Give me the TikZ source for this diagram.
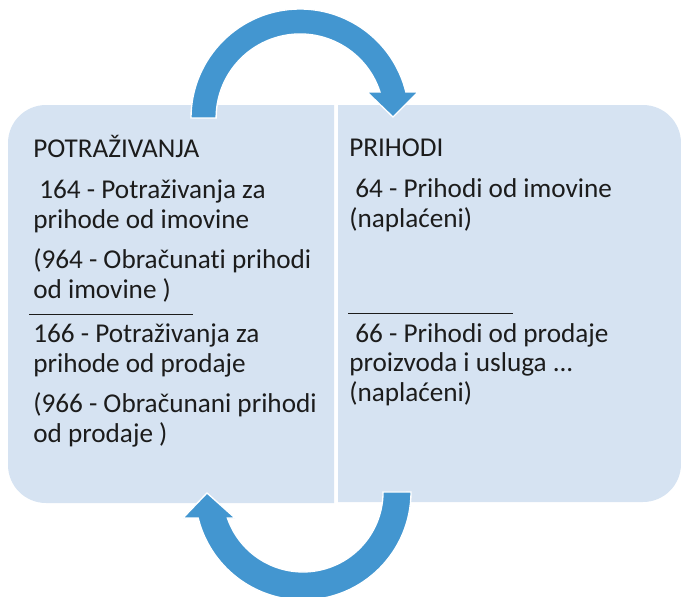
\documentclass[tikz,border=0pt]{standalone}
\usepackage{fontspec}
\setmainfont{Carlito}[Ligatures=NoCommon]
\definecolor{panelblue}{RGB}{214,227,242}
\definecolor{arrowblue}{RGB}{67,150,208}
\definecolor{inkgray}{RGB}{28,28,28}
\tikzstyle{panel} = [fill=panelblue, draw=none]
\tikzstyle{cyclearrow} = [fill=arrowblue, draw=white, line width=1pt]
\tikzstyle{txt} = [anchor=base west, inner sep=0pt, align=left, text=inkgray,
    font=\fontsize{20.4}{22.1}\selectfont]
\tikzstyle{rule} = [draw=inkgray, line width=0.75pt]

\begin{document}
\begin{tikzpicture}[x=0.75pt, y=-0.75pt]
\useasboundingbox (0,0) rectangle (681,596);
\path[panel] (171,105) [rounded corners=28.5pt] -- (8,105) -- (8,503) -- (171,503)
    [sharp corners] -- (334,503) -- (334,105) -- cycle;
\path[panel] (509,105) [rounded corners=28.5pt] -- (681,105) -- (681,502) -- (509,502)
    [sharp corners] -- (338,502) -- (338,105) -- cycle;
\coordinate (topc) at (300,118);
\coordinate (botc) at (303,492);
% arrows
\path[cyclearrow, shift={(topc)}] (-109,0) arc[start angle=180, end angle=346.2, radius=109]
    -- (118,-26) -- (93,-1) -- (67,-26) -- (80,-26)
    arc[start angle=342, end angle=180, radius=84] -- cycle;
\path[cyclearrow, shift={(botc)}] (108,0) arc[start angle=0, end angle=166.1, radius=108]
    -- (-120,26) -- (-96,1) -- (-68,26) -- (-75.6,26)
    arc[start angle=161, end angle=0, radius=80] -- cycle;
% left side (multi-line nodes sit on their last baseline)
\node[txt] (ltitle) at (33,157) {POTRAŽIVANJA};
\node[txt] (l164) at (33,228) {\ 164 - Potraživanja za\\prihode od imovine};
\node[txt] (l964) at (33,298) {(964 - Obračunati prihodi\\od imovine )};
\draw[rule] (29,314) -- (193,314);
\node[txt] (l166) at (33,372) {166 - Potraživanja za\\prihode od prodaje};
\node[txt] (l966) at (33,442) {(966 - Obračunani prihodi\\od prodaje )};
% right side
\node[txt] (rtitle) at (349,156) {PRIHODI};
\node[txt] (r64) at (349,227) {\ 64 - Prihodi od imovine\\(naplaćeni)};
\draw[rule] (348,313) -- (513,313);
\node[txt] (r66) at (349,401) {\ 66 - Prihodi od prodaje\\proizvoda i usluga ...\\(naplaćeni)};
\end{tikzpicture}
\end{document}
